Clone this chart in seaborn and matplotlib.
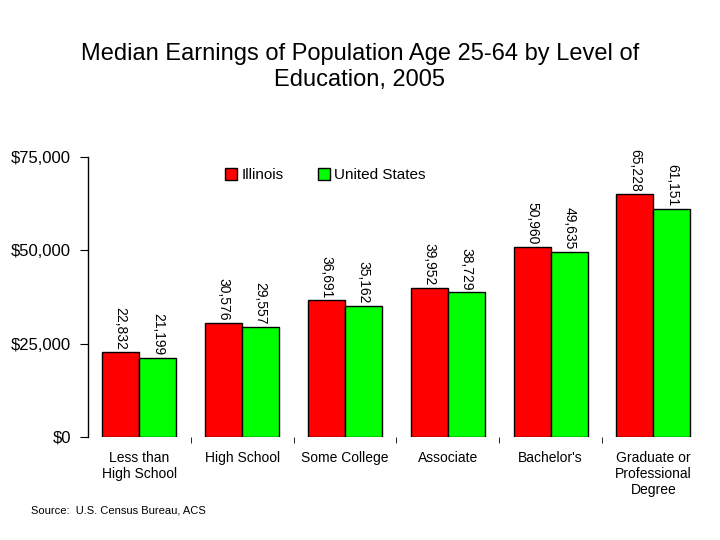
import matplotlib
matplotlib.use('Agg')
import matplotlib.pyplot as plt
import seaborn as sns
import pandas as pd
from matplotlib.ticker import FuncFormatter, FixedLocator

# datos
categories = ["Less than\nHigh School", "High School", "Some College",
              "Associate", "Bachelor's", "Graduate or\nProfessional\nDegree"]
illinois = [22832, 30576, 36691, 39952, 50960, 65228]
united_states = [21199, 29557, 35162, 38729, 49635, 61151]
series = ["Illinois", "United States"]

df = pd.DataFrame({
    "cat": categories * 2,
    "earn": illinois + united_states,
    "area": [series[0]] * len(categories) + [series[1]] * len(categories),
})

sns.set_style("white")
plt.rcParams['font.family'] = ['Liberation Sans', 'DejaVu Sans']
plt.rcParams['text.color'] = 'black'
plt.rcParams['xtick.color'] = 'black'
plt.rcParams['ytick.color'] = 'black'

fig = plt.figure(figsize=(7.2, 5.4), dpi=100)
ax = fig.add_axes([0.122, 0.191, 0.857, 0.518])

sns.barplot(data=df, x="cat", y="earn", hue="area", palette=["#ff0000", "#00ff00"],
            width=0.72, edgecolor="black", linewidth=1, saturation=1, ax=ax)

for cont in ax.containers:
    for bar in cont:
        h = bar.get_height()
        ax.text(bar.get_x() + bar.get_width() / 2, h + 600, f"{int(h):,}",
                rotation=270, ha="center", va="bottom", fontsize=10)

ax.set_ylim(0, 75000)
ax.set_yticks([0, 25000, 50000, 75000])
ax.yaxis.set_major_formatter(FuncFormatter(lambda v, p: f"${int(v):,}"))
ax.set_xlim(-0.5, len(categories) - 0.5)
ax.set_xlabel("")
ax.set_ylabel("")
ax.tick_params(axis="y", labelsize=12, length=6, left=True, pad=6)
ax.tick_params(axis="x", labelsize=10, length=0, pad=10)
ax.xaxis.set_minor_locator(FixedLocator([i + 0.5 for i in range(len(categories) - 1)]))
ax.tick_params(axis="x", which="minor", length=4, bottom=True)

for s in ["top", "right", "bottom"]:
    ax.spines[s].set_visible(False)
ax.spines["left"].set_color("black")
ax.spines["left"].set_linewidth(1)

ax.legend(title=None, frameon=False, loc="upper left", bbox_to_anchor=(0.2, 1.01),
          ncol=2, fontsize=11, handlelength=0.8, handleheight=0.8,
          handletextpad=0.3, columnspacing=2.2)

fig.text(0.5, 0.876, "Median Earnings of Population Age 25-64 by Level of\nEducation, 2005",
         ha="center", va="center", fontsize=17, linespacing=1.2)
fig.text(0.043, 0.055, "Source:  U.S. Census Bureau, ACS", fontsize=8, va="center")

plt.savefig("out.png", dpi=100)
plt.close()
